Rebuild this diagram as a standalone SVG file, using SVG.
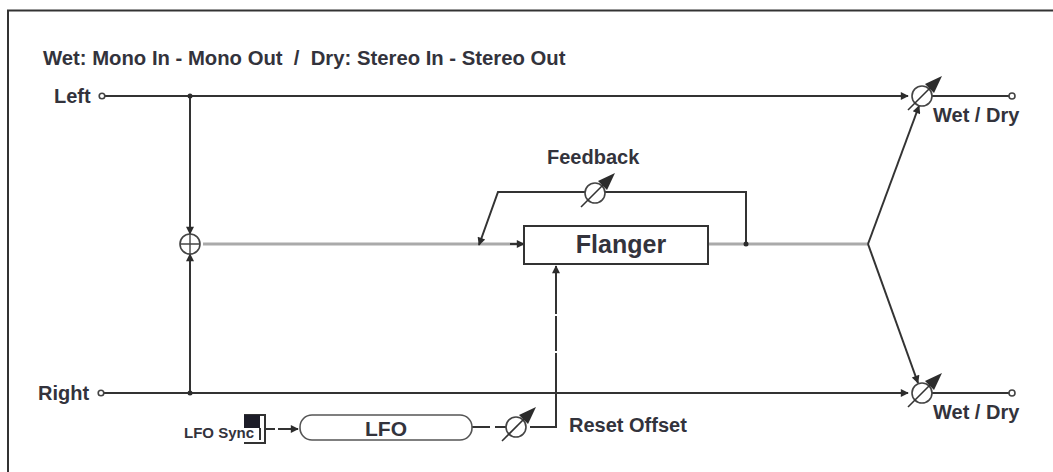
<svg xmlns="http://www.w3.org/2000/svg" width="1053" height="472" viewBox="0 0 1053 472">
<style>
text{font-family:"Liberation Sans",Arial,sans-serif;font-weight:700;fill:#33333c}
.l{font-size:20px}
.w{fill:none;stroke:#333;stroke-width:2}
.g{fill:none;stroke:#aaa;stroke-width:3}
.k{fill:#fff;stroke:#444;stroke-width:1.6}
.a{fill:#2c2c2c;stroke:none}
.b{fill:#fff;stroke:#333;stroke-width:2}
</style>
<defs>
<marker id="ah" viewBox="0 0 10 10" refX="9" refY="5" markerWidth="11" markerHeight="8" markerUnits="userSpaceOnUse" orient="auto"><path d="M0 0L10 5L0 10Z" class="a"/></marker>
<g id="vca"><circle r="10" cx="0" cy="0" class="k"/><path d="M-14 14L11 -11" fill="none" stroke="#333" stroke-width="1.600"/><path d="M20 -20L12 -3L3 -12Z" class="a"/></g>
</defs>
<path d="M1053 10.500H8V472" fill="none" stroke="#333" stroke-width="2"/>
<text x="43" y="65" style="font-size:20.300px;white-space:pre">Wet: Mono In - Mono Out  /  Dry: Stereo In - Stereo Out</text>
<g id="connectors">
<path class="g" d="M203 244H524"/>
<path class="g" d="M708 244H868"/>
<path class="w" d="M104 96H908" marker-end="url(#ah)"/>
<path class="w" d="M104 393H908" marker-end="url(#ah)"/>
<path class="w" d="M932 96H1010"/>
<path class="w" d="M932 393H1010"/>
<path class="w" d="M190 96V234" marker-end="url(#ah)"/>
<path class="w" d="M190 393V254" marker-end="url(#ah)"/>
<path class="w" d="M868 244L919 106" marker-end="url(#ah)"/>
<path class="w" d="M868 244L918 383" marker-end="url(#ah)"/>
<path class="w" d="M746 244V192H498L479 245" marker-end="url(#ah)"/>
<path class="w" d="M510 244H524" marker-end="url(#ah)"/>
<path class="w" d="M265 429H298" stroke-dasharray="10 3 20" marker-end="url(#ah)"/>
<path class="w" d="M472 427H490M495 427H506"/>
<path class="w" d="M530 427H556V353M556 351V316M556 314V266" marker-end="url(#ah)"/>
<circle cx="190" cy="96" r="2.500" class="a"/>
<circle cx="190" cy="393" r="2.500" class="a"/>
<circle cx="746" cy="244" r="2.500" class="a"/>
</g>
<g id="left-in"><text x="54" y="103" class="l">Left</text><circle cx="102" cy="96" r="2.800" class="k"/></g>
<g id="right-in"><text x="38" y="400" class="l">Right</text><circle cx="101" cy="393" r="2.800" class="k"/></g>
<g id="mixer"><circle cx="190" cy="244" r="10" class="k"/><path d="M180 244H200M190 234V254" stroke="#444" stroke-width="1.400"/></g>
<g id="flanger"><rect x="524" y="226" width="184" height="38" class="b"/><text x="621" y="253" font-size="25" text-anchor="middle">Flanger</text></g>
<g id="feedback"><use href="#vca" x="595" y="193"/><text x="547" y="164" class="l">Feedback</text></g>
<g id="lfo"><rect x="300" y="415" width="172" height="25" rx="12" class="b" style="stroke-width:1.600;stroke:#555"/><text x="386" y="436" font-size="21" text-anchor="middle">LFO</text></g>
<g id="lfo-sync"><text x="184" y="438" style="font-size:15px">LFO Sync</text><path d="M244 415H265V443H244" fill="none" stroke="#333" stroke-width="2"/><rect x="244" y="415" width="16" height="13" fill="#1d1d28"/><path d="M260 428V440" stroke="#333" stroke-width="2"/></g>
<g id="reset-offset"><use href="#vca" x="516" y="427"/><text x="569" y="432" class="l">Reset Offset</text></g>
<g id="wet-top"><use href="#vca" x="922" y="96"/><circle cx="1012" cy="96" r="3" class="k"/><text x="933" y="122" class="l">Wet / Dry</text></g>
<g id="wet-bottom"><use href="#vca" x="922" y="393"/><circle cx="1012" cy="393" r="3" class="k"/><text x="933" y="419" class="l">Wet / Dry</text></g>
</svg>
